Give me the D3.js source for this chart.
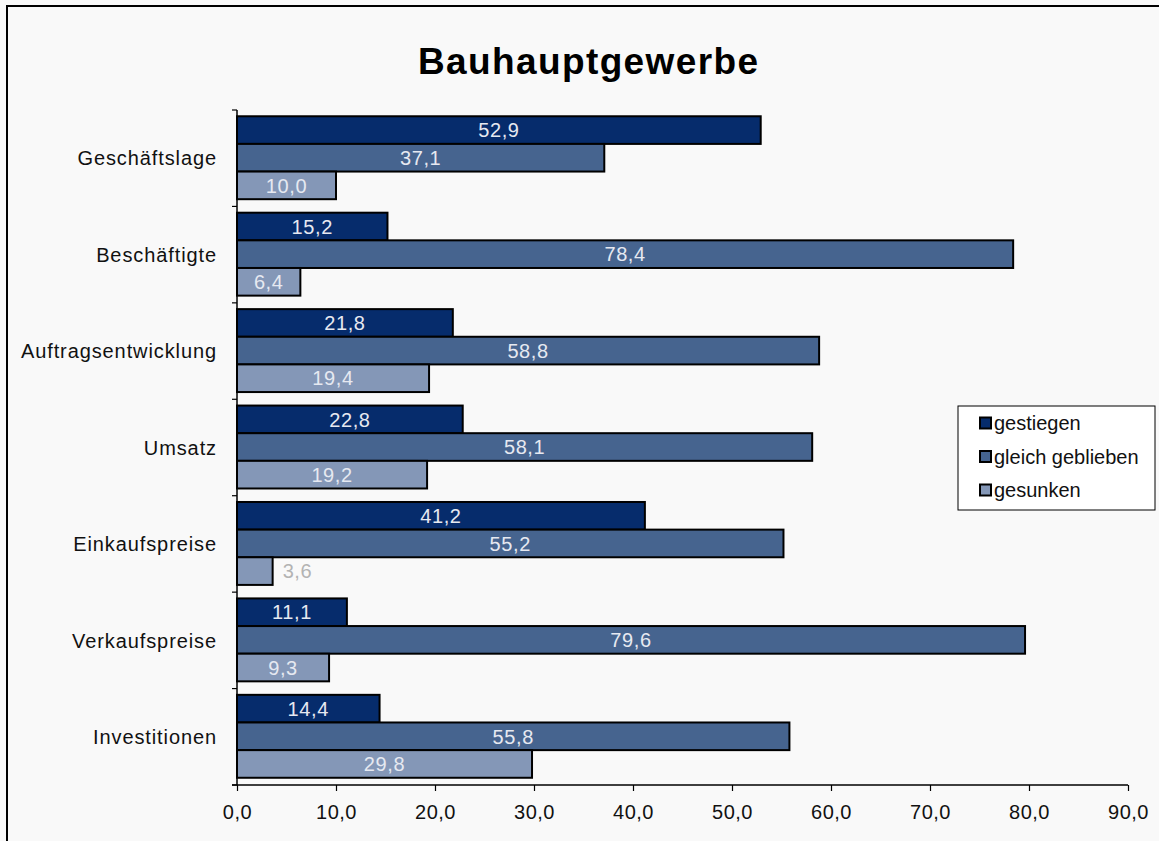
<!DOCTYPE html>
<html>
<head>
<meta charset="utf-8">
<script src="https://cdn.jsdelivr.net/npm/d3@7"></script>
<style>
  body { margin: 0; background: #f9f9f9; }
  svg { display: block; font-family: "Liberation Sans", Arial, sans-serif; }
</style>
</head>
<body>
<svg id="chart" width="1159" height="841"></svg>
<script>
const categories = ['Geschäftslage', 'Beschäftigte', 'Auftragsentwicklung', 'Umsatz', 'Einkaufspreise', 'Verkaufspreise', 'Investitionen'];
const series = ['gestiegen', 'gleich geblieben', 'gesunken'];
const gestiegen = [52.9, 15.2, 21.8, 22.8, 41.2, 11.1, 14.4];
const gleichGeblieben = [37.1, 78.4, 58.8, 58.1, 55.2, 79.6, 55.8];
const gesunken = [10.0, 6.4, 19.4, 19.2, 3.6, 9.3, 29.8];
const xTicks = [0, 10, 20, 30, 40, 50, 60, 70, 80, 90];
const colors = ['#062c6c', '#46648f', '#8497b7'];

const values = [gestiegen, gleichGeblieben, gesunken];
const rows = [];
categories.forEach((c, i) => {
    series.forEach((s, j) => rows.push({cat: c, ser: s, val: values[j][i], idx: j}));
});

const de = d3.formatLocale({decimal: ',', thousands: '.', grouping: [3], currency: ['', ' €']});
const fmt = de.format('.1f');

const svg = d3.select('#chart');

// frame
svg.append('rect')
    .attr('x', 7).attr('y', 6)
    .attr('width', 1170).attr('height', 860)
    .attr('fill', '#f9f9f9')
    .attr('stroke', '#000').attr('stroke-width', 2);

svg.append('text')
    .attr('x', 418).attr('y', 74)
    .attr('font-size', 37).attr('font-weight', 'bold')
    .attr('textLength', 340).attr('lengthAdjust', 'spacing')
    .text('Bauhauptgewerbe');

const x = d3.scaleLinear().domain([0, 90]).range([237, 1128]);
const y = d3.scaleBand().domain(categories).range([110, 785]);
const yInner = d3.scaleBand().domain(series)
    .range([y.bandwidth() * 0.065, y.bandwidth() * 0.925]);

// bars
const g = svg.append('g');
g.selectAll('rect')
    .data(rows)
    .join('rect')
    .attr('x', x(0))
    .attr('y', d => y(d.cat) + yInner(d.ser))
    .attr('width', d => x(d.val) - x(0))
    .attr('height', yInner.bandwidth())
    .attr('fill', d => colors[d.idx])
    .attr('stroke', '#000')
    .attr('stroke-width', 2);

// value labels
g.selectAll('text')
    .data(rows)
    .join('text')
    .attr('x', d => d.val < 5 ? x(d.val) + 10 : (x(0) + x(d.val)) / 2)
    .attr('y', d => y(d.cat) + yInner(d.ser) + yInner.bandwidth() / 2)
    .attr('dy', '0.36em')
    .attr('text-anchor', d => d.val < 5 ? 'start' : 'middle')
    .attr('font-size', 20)
    .attr('letter-spacing', 0.6)
    .attr('fill', d => d.val < 5 ? '#b3b3b3' : '#e6e9f1')
    .text(d => fmt(d.val));

// x axis
const xAxis = svg.append('g')
    .attr('transform', 'translate(0,785)')
    .call(d3.axisBottom(x).tickValues(xTicks).tickFormat(fmt).tickSizeOuter(0).tickSize(6));
xAxis.select('.domain').attr('stroke-width', 1.5).attr('d', 'M232,0H1128');
xAxis.selectAll('.tick line').attr('stroke-width', 1.2);
xAxis.selectAll('.tick text')
    .attr('font-size', 20).attr('font-family', '"Liberation Sans", Arial, sans-serif')
    .attr('letter-spacing', 0.5)
    .attr('fill', '#111').attr('dy', '1.25em');

// y axis
const yAxis = svg.append('g');
yAxis.append('line')
    .attr('x1', x(0)).attr('x2', x(0))
    .attr('y1', y.range()[0]).attr('y2', y.range()[1])
    .attr('stroke', '#000').attr('stroke-width', 1.5);
const bounds = categories.map(c => y(c)).concat([y.range()[1]]);
yAxis.selectAll('line.tk')
    .data(bounds)
    .join('line')
    .attr('class', 'tk')
    .attr('x1', x(0) - 5).attr('x2', x(0))
    .attr('y1', d => d).attr('y2', d => d)
    .attr('stroke', '#000').attr('stroke-width', 1.2);
yAxis.selectAll('text')
    .data(categories)
    .join('text')
    .attr('x', 217)
    .attr('y', d => y(d) + y.bandwidth() / 2)
    .attr('dy', '0.36em')
    .attr('text-anchor', 'end')
    .attr('font-size', 20)
    .attr('letter-spacing', 0.9)
    .attr('fill', '#111')
    .text(d => d);

// legend
const legend = svg.append('g').attr('transform', 'translate(958,406)');
legend.append('rect')
    .attr('width', 197).attr('height', 104)
    .attr('fill', '#fff').attr('stroke', '#000').attr('stroke-width', 1);
const items = legend.selectAll('g.item')
    .data(series)
    .join('g')
    .attr('class', 'item')
    .attr('transform', (d, i) => `translate(22,${17 + i * 33.5})`);
items.append('rect')
    .attr('x', 0).attr('y', -5.5)
    .attr('width', 11).attr('height', 11)
    .attr('fill', (d, i) => colors[i])
    .attr('stroke', '#000').attr('stroke-width', 2);
items.append('text')
    .attr('x', 14)
    .attr('dy', '0.36em')
    .attr('font-size', 20)
    .attr('fill', '#111')
    .text(d => d);
</script>
</body>
</html>
